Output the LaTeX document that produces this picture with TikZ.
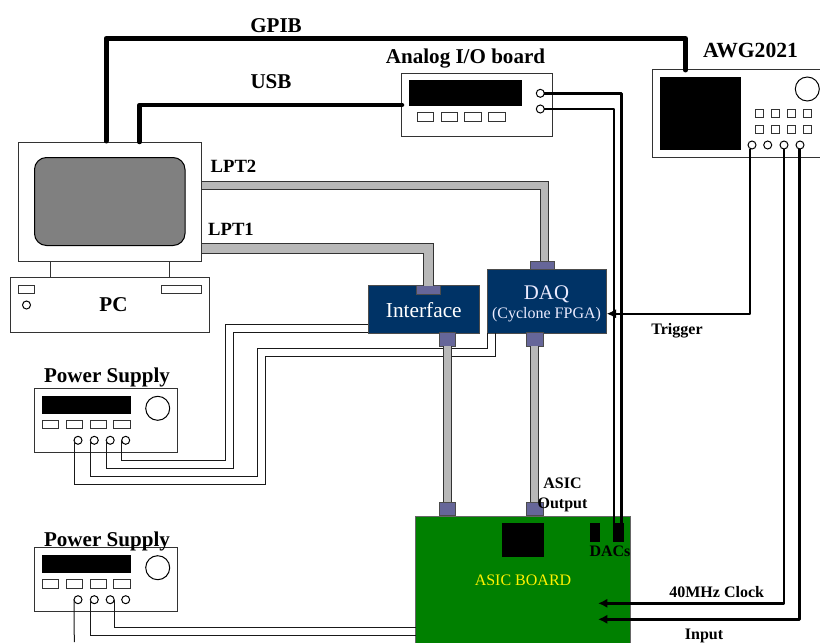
\documentclass[tikz,border=0pt]{standalone}
\usepackage{fontspec}
\setmainfont{Liberation Serif}
\usepackage{xcolor}
\usetikzlibrary{arrows.meta,positioning,calc}
\definecolor{navybox}{HTML}{003366}
\definecolor{portblue}{HTML}{666699}
\definecolor{boardgreen}{HTML}{008000}
\definecolor{cablegray}{HTML}{B8B8B8}
\begin{document}
\begin{tikzpicture}[
        x=0.75pt,y=-0.75pt,
        sized/.style 2 args={minimum width=#1*0.75pt,minimum height=#2*0.75pt,inner sep=0pt,outer sep=0pt},
        box/.style={rectangle,draw=black!80,fill=white,line width=0.75pt},
        solid box/.style={rectangle,draw=black,fill=black},
        ctrl/.style={box,sized={16.3}{8.3}},
        jack/.style={circle,draw=black,fill=white,line width=0.75pt,inner sep=0pt,outer sep=0pt,minimum size=6pt},
        knob/.style={circle,draw=black,fill=white,line width=0.75pt,inner sep=0pt,outer sep=0pt,minimum size=18pt},
        unit/.style={rectangle,draw=black!70,fill=navybox,line width=0.5pt,text=white},
        port/.style={rectangle,draw=black!70,fill=portblue,line width=0.75pt,sized={16.4}{13.5}},
        biglabel/.style={font=\fontsize{15.8}{18}\selectfont\bfseries,inner sep=0pt},
        midlabel/.style={font=\fontsize{14}{16}\selectfont\bfseries,inner sep=0pt},
        smalllabel/.style={font=\fontsize{12}{15}\selectfont\bfseries,inner sep=0pt,align=center},
        wire/.style={draw=black!90,line width=0.75pt},
        cable/.style={draw=black!80,line width=0.75pt,double=cablegray,double distance=#1*0.75pt},
        cable/.default=7,
        bus/.style={line width=#1*0.75pt,line cap=round,line join=round},
        sig/.style={line width=#1*0.75pt,line join=round},
        arrow/.style={-{Latex[length=7pt,width=7pt]},line join=round,line width=#1*0.75pt}
    ]
        \useasboundingbox (0,0) rectangle (820,642);
        \clip (0,0) rectangle (820,642);

        \node[box,sized={183}{119}] (monitor) at (110,201.5) {};
        \node[rectangle,draw=black,fill=gray,rounded corners=9pt,line width=0.75pt,sized={150.5}{88}] (screen) at (109.75,201.5) {};
        \node[box,sized={119}{16}] (neck) at (110,269) {};
        \node[box,sized={199}{55.5}] (pc) at (110,304.75) {};
        \node[box,sized={16}{8}] (pcslota) at (26.5,289) {};
        \node[box,sized={40}{8}] (pcslotb) at (181.5,289) {};
        \node[jack] (pcled) at (26.5,305) {};

        \node[box,sized={151}{63.7}] (analog) at (476.8,104.9) {};
        \node[solid box,sized={112}{24.5}] (analogdisp) at (465,92.75) {};
        \foreach \i/\x in {a/425.4,b/449.4,c/473,d/496.9}
            \node[ctrl] (analogbtn\i) at (\x,116.9) {};
        \node[jack] (analogouta) at (540.3,93.3) {};
        \node[jack] (analogoutb) at (540.3,109) {};

        \node[box,sized={200}{87}] (awg) at (752.7,113.5) {};
        \node[solid box,sized={80.3}{72.5}] (awgdisp) at (700.2,113.2) {};
        \node[knob] (awgknob) at (807.3,89) {};
        \foreach \x in {759.7,775.7,791.7,807.7}
            \foreach \y in {113.3,129.3}
                \node[box,sized={8}{8}] (awgkey\x-\y) at (\x,\y) {};
        \foreach \i/\x in {a/752,b/767.7,c/784,d/800}
            \node[jack] (awgjack\i) at (\x,145) {};

        \foreach \s/\y in {a/0,b/159.4} {
            \node[box,sized={143}{64}] (supply\s) at (106.2,420.3+\y) {};
            \node[solid box,sized={88.3}{17}] (supplydisp\s) at (86.2,404.5+\y) {};
            \node[knob] (supplyknob\s) at (157.7,408.3+\y) {};
            \foreach \i/\x in {a/50.5,b/74.5,c/98.3,d/122}
                \node[ctrl] (supplybtn\s\i) at (\x,424.5+\y) {};
            \foreach \i/\x in {a/78,b/94.3,c/110.2,d/125.7}
                \node[jack] (supply\s jack\i) at (\x,440.3+\y) {};
        }

        \node[unit,sized={111.7}{47.7},font=\fontsize{16}{18}\selectfont] (interface) at (423.8,309.6) {Interface};
        \node[unit,sized={119.4}{63.7}] (daq) at (547,301) {};
        \node[align=center,inner sep=0pt,font=\fontsize{12}{14.5}\selectfont,text=white!92!blue] (daqlabel) at (546.5,304) {{\fontsize{15.6}{14.5}\selectfont DAQ}\\(Cyclone FPGA)};
        \node[port,sized={24.3}{8.5}] (interfacetop) at (428.2,290) {};
        \node[port,sized={24}{8}] (daqtop) at (542.7,265) {};
        \node[port] (interfacebot) at (447.5,339.5) {};
        \node[port] (daqbot) at (534.9,339.5) {};

        \node[rectangle,draw=black!60,fill=boardgreen,line width=0.75pt,sized={214.6}{160},anchor=north west] (board) at (415.7,516) {};
        \node[solid box,sized={40.3}{32.5}] (asicchip) at (522.8,539.7) {};
        \node[solid box,sized={9}{17.7}] (daca) at (594.5,532.2) {};
        \node[solid box,sized={9.7}{17.7}] (dacb) at (618.2,532.2) {};
        \node[port] (boardporta) at (447.5,509.2) {};
        \node[port] (boardportb) at (534.9,509.2) {};

        \coordinate (benda) at (225.3,460.3);
        \coordinate (bendb) at (233,468.3);
        \coordinate (bendc) at (257.3,476);
        \coordinate (bendd) at (265,484);
        \coordinate (intera) at (368,324.7);
        \coordinate (interb) at (368,332.7);
        \coordinate (daqa) at (487.3,348.7);
        \coordinate (daqb) at (495.7,356.7);
        \coordinate (boarda) at (415.7,627.3);
        \coordinate (boardb) at (415.7,635.3);
        \coordinate (pcfoot) at (74.3,642);

        \draw[wire] (supplyajackd.west) |- (benda) |- (intera);
        \draw[wire] (supplyajackc.west) |- (bendb) |- (interb);
        \draw[wire] (supplyajackb.west) |- (bendc) |- (daqa) -- (daqa |- daq.south);
        \draw[wire] (supplyajacka.west) |- (bendd) |- (daqb) -- (daqb |- daq.south);
        \draw[wire] (supplybjackc.east) |- (boarda);
        \draw[wire] (supplybjackb.west) |- (boardb);
        \draw[wire] (supplybjacka.west) -- (pcfoot);

        \coordinate (lpta) at (201.5,248);
        \coordinate (lptb) at (201.5,185.7);
        \coordinate (lptbend) at (544.3,261);
        \draw[cable=9] (lpta) -| (interfacetop.north);
        \draw[cable=6.5] (lptb) -| (lptbend);
        \draw[cable] (interfacebot.south) -- (boardporta.north);
        \draw[cable] (daqbot.south) -- (boardportb.north);

        \coordinate (gpibpc) at (106,141);
        \coordinate (gpibbend) at (106,38.5);
        \coordinate (gpibawg) at (685.5,70);
        \coordinate (usbpc) at (139.5,142);
        \coordinate (usbio) at (402,105);
        \draw[bus=5] (gpibpc) -- (gpibbend) -| (gpibawg);
        \draw[bus=4.5] (usbpc) |- (usbio);

        \coordinate (dacinb) at (621.7,524);
        \coordinate (dacina) at (614,524);
        \draw[sig=2.6] (analogouta.east) -| (dacinb);
        \draw[sig=2.6] (analogoutb.east) -| (dacina);

        \coordinate (daqin) at (606.7,313.7);
        \coordinate (clockin) at (598,603.3);
        \coordinate (inputin) at (598,619.3);
        \draw[arrow=2.2] ([xshift=-1.3pt]awgjacka.south) |- (daqin);
        \draw[arrow=2.6] (awgjackc.south) |- (clockin);
        \draw[arrow=2.8] ([xshift=-0.5pt]awgjackd.south) |- (inputin);

        \node[biglabel] (gpiblabel) at (276,26) {GPIB};
        \node[biglabel] (usblabel) at (271,82) {USB};
        \node[biglabel] (analoglabel) at (465.5,59) {Analog I/O board};
        \node[biglabel,font=\fontsize{16.2}{18}\selectfont\bfseries] (awglabel) at (750.5,50) {AWG2021};
        \node[biglabel] (pclabel) at (113.5,305) {PC};
        \node[biglabel] (supplylabela) at (107,377.5) {Power Supply};
        \node[biglabel] (supplylabelb) at (107,541.5) {Power Supply};
        \node[midlabel] (lptblabel) at (233.5,166.5) {LPT2};
        \node[midlabel] (lptalabel) at (231,229.5) {LPT1};
        \node[smalllabel] (triggerlabel) at (677,331) {Trigger};
        \node[smalllabel] (asicout) at (562.5,495) {ASIC\\Output};
        \node[smalllabel] (daclabel) at (610,551) {DACs};
        \node[smalllabel] (clocklabel) at (716.7,592) {40MHz Clock};
        \node[smalllabel] (inputlabel) at (704,636) {Input};
        \node[font=\fontsize{12}{15}\selectfont,text=yellow,inner sep=0pt] (boardlabel) at (523,580) {ASIC BOARD};
    \end{tikzpicture}
\end{document}
